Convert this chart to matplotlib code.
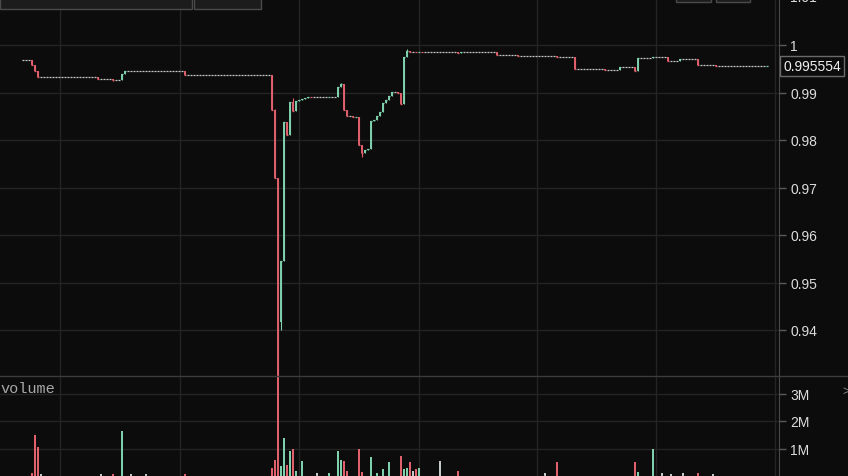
import numpy as np
import matplotlib.pyplot as plt
from matplotlib.lines import Line2D
from matplotlib.patches import Rectangle

# close price of each candle (left to right)
closes = ([0.9969] * 3
          + [0.9957, 0.9946, 0.9933]
          + [0.9933] * 19
          + [0.9928] * 5
          + [0.9926] * 3
          + [0.9940, 0.9945]
          + [0.9945] * 19
          + [0.9937]
          + [0.9937] * 28
          + [0.9863, 0.9720, 0.9300, 0.9545, 0.9838, 0.9810, 0.9880, 0.9861,
             0.9882, 0.9884, 0.9886, 0.9889, 0.9891]
          + [0.9890] * 6
          + [0.9891] * 3
          + [0.9911, 0.9917, 0.9864, 0.9850, 0.9850, 0.9848, 0.9849, 0.9790,
             0.9772, 0.9780, 0.9782, 0.9840, 0.9842, 0.9850, 0.9859, 0.9878,
             0.9884, 0.9893, 0.9901, 0.9901, 0.9900, 0.9876, 0.9975, 0.9987,
             0.9986]
          + [0.9986, 0.9985, 0.9986, 0.9985, 0.9985]
          + [0.9985] * 10 + [0.9983] + [0.9985] * 12
          + [0.9980] * 7
          + [0.9977] * 13
          + [0.9975] * 6
          + [0.9949]
          + [0.9949] * 9
          + [0.9947] * 5
          + [0.9953] * 5
          + [0.9945, 0.9972]
          + [0.9972] * 4
          + [0.9974]
          + [0.9974] * 4
          + [0.9966] * 4
          + [0.9970] * 6
          + [0.9957] * 6
          + [0.99555] * 17 + [0.995554])

open_fix = {0: 0.9969, 86: 0.9416}
high_fix = {84: 0.9866, 90: 0.9888, 106: 0.9920, 128: 0.9992}
low_fix = {30: 0.9924, 86: 0.9400, 113: 0.9765}

# volume bars (candle index, millions)
vol_index = [3, 4, 5, 6, 26, 30, 33, 36, 41, 54, 83, 84, 85, 86, 87, 88, 89, 90,
             91, 93, 98, 102, 105, 106, 107, 108, 112, 113, 116, 118, 120, 122,
             126, 127, 128, 129, 130, 131, 132, 139, 145, 174, 178, 204, 205,
             210, 213, 216, 220, 225, 230]
vol_millions = [0.10, 1.50, 1.07, 0.08, 0.06, 0.08, 1.65, 0.08, 0.06, 0.08,
                0.30, 0.60, 3.70, 0.35, 1.40, 0.40, 0.90, 0.97, 0.20, 0.53,
                0.10, 0.10, 0.90, 0.60, 0.55, 0.20, 1.00, 0.15, 0.68, 0.10,
                0.25, 0.50, 0.72, 0.25, 0.30, 0.50, 0.20, 0.25, 0.30, 0.55,
                0.18, 0.10, 0.50, 0.50, 0.15, 1.00, 0.10, 0.08, 0.12, 0.10, 0.06]

price_ticks = [0.94, 0.95, 0.96, 0.97, 0.98, 0.99, 1.0]
price_labels = ["0.94", "0.95", "0.96", "0.97", "0.98", "0.99", "1"]
vol_ticks = [1, 2, 3]
vol_labels = ["1M", "2M", "3M"]
last_label = "0.995554"

bg = "#0d0c0c"
grid_c = "#242424"
up_c = "#7fd1ae"
down_c = "#e0606c"
flat_c = "#c4cac7"

closes = np.array(closes)
n = len(closes)
x = np.arange(n)
opens = np.r_[closes[0], closes[:-1]]
for k, v in open_fix.items():
    opens[k] = v
highs = np.maximum(opens, closes)
lows = np.minimum(opens, closes)
for k, v in high_fix.items():
    highs[k] = v
for k, v in low_fix.items():
    lows[k] = v
colors = np.where(closes > opens + 1e-9, up_c,
                  np.where(closes < opens - 1e-9, down_c, flat_c))
flat = colors == flat_c

W, H = 848, 477
fig = plt.figure(figsize=(W / 100, H / 100), dpi=100, facecolor=bg)
plt.rcParams['font.family'] = ['Liberation Sans', 'DejaVu Sans']

ax = fig.add_axes([0, 100 / H, 779 / W, 377 / H], facecolor=bg)
axv = fig.add_axes([0, 0, 779 / W, 100 / H], facecolor=bg)

px0, step = 23, 3.0
grid_px = [60, 180, 299, 419, 537, 656, 775]
for a in (ax, axv):
    a.set_xlim(-px0 / step, (779 - px0) / step)
    for g in grid_px:
        a.axvline((g - px0) / step, color=grid_c, lw=1, zorder=0)
    a.set_xticks([])
    for s in a.spines.values():
        s.set_visible(False)
    a.spines['right'].set_visible(True)
    a.spines['right'].set_color('#4a4a4a')
    a.yaxis.tick_right()
    a.tick_params(axis='y', colors='#5a5a5a', labelcolor='#dcdcdc',
                  length=5, width=1, pad=3, labelsize=10)
    a.grid(axis='y', color=grid_c, lw=1, zorder=0)

# price panel
ax.set_ylim(1 - 331 / 4750, 1 + 46 / 4750)
ax.set_yticks(price_ticks, price_labels)
ax.vlines(x, lows, highs, colors=colors, lw=0.8, zorder=2)
moving = ~flat
ax.vlines(x[moving], opens[moving], closes[moving], colors=colors[moving],
          lw=1.4, zorder=3)
# every candle gets a short dash at its close so tiny bodies stay visible
ax.hlines(closes, x - 0.33, x + 0.33, colors=colors, lw=0.9, zorder=3)

ax.annotate("1.01", xy=(1, 1.01), xycoords=('axes fraction', 'data'),
            xytext=(11, 0), textcoords='offset pixels', va='center',
            ha='left', color='#dcdcdc', fontsize=10, annotation_clip=False)
ax.annotate(last_label, xy=(1, closes[-1]), xycoords=('axes fraction', 'data'),
            xytext=(4, 0), textcoords='offset pixels', va='center', ha='left',
            color='#f0f0f0', fontsize=10, annotation_clip=False,
            bbox=dict(boxstyle='square,pad=0.2', fc=bg, ec='#6a6a6a', lw=1))

# volume panel
axv.set_ylim(0, 100 / 27.5)
axv.set_yticks(vol_ticks, vol_labels)
axv.bar(vol_index, vol_millions, width=0.6, color=[colors[i] for i in vol_index],
        linewidth=0, zorder=3)
fig.text(0, 1 - 389 / H, "volume", family='Liberation Mono', fontsize=11,
         color='#a8a8a8', va='center', ha='left')
fig.text(842 / W, 1 - 392 / H, ">", fontsize=9, color='#8a8a8a', va='center')

# panel separator
fig.add_artist(Line2D([0, 1], [100 / H, 100 / H], color='#3c3c3c', lw=1))

# toolbar boxes at the top edge
for bx, bw, bh in [(0, 192, 10), (194, 67, 10), (676, 35, 3), (716, 34, 3)]:
    fig.add_artist(Rectangle((bx / W, 1 - bh / H), bw / W, (bh + 5) / H,
                             fc='#1c1c1c', ec='#4a4a4a', lw=1))

fig.savefig("out.png", dpi=100, facecolor=bg)
